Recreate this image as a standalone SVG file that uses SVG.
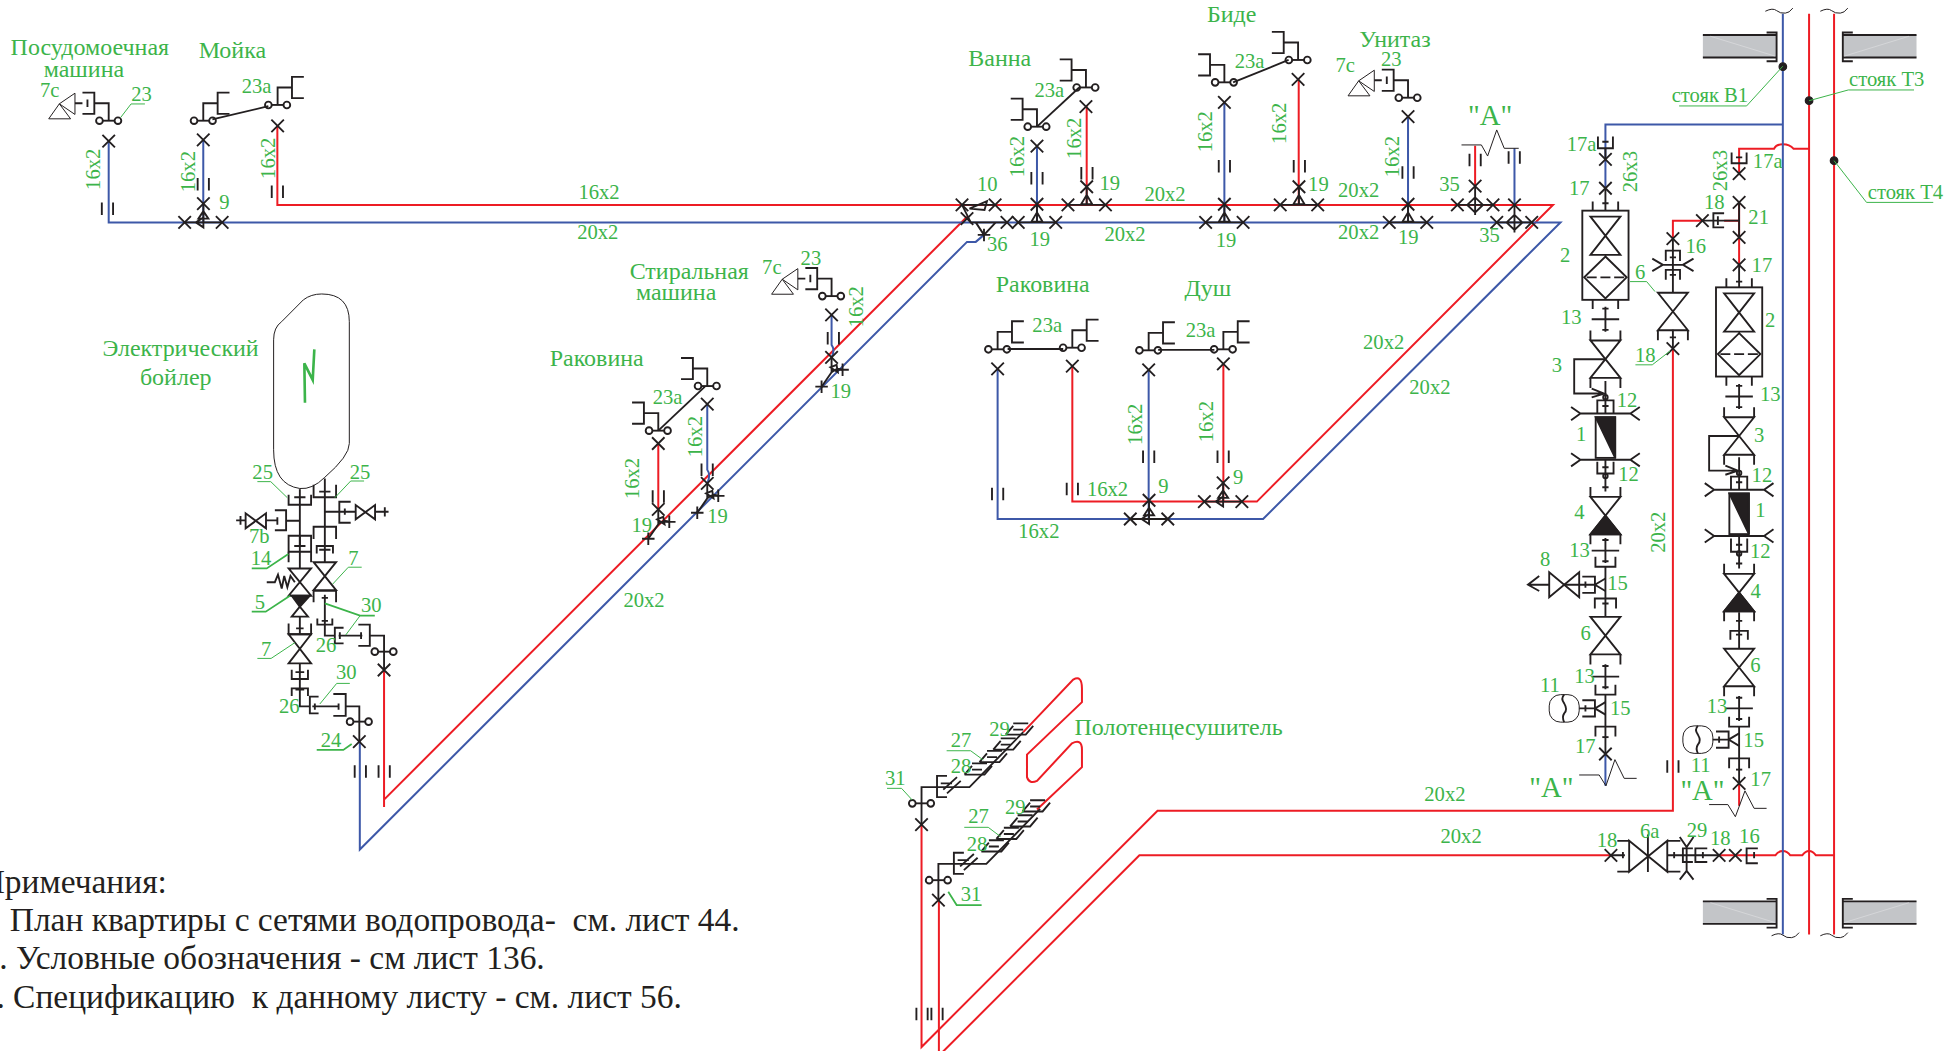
<svg xmlns="http://www.w3.org/2000/svg" width="1959" height="1051" viewBox="0 0 1959 1051">
<style>
text{font-family:"Liberation Serif","Times New Roman",serif;fill:#3cb44a;font-size:16.5px}
.h{font-size:19.2px}
.q{font-size:23px}
.n{font-size:26.8px;fill:#231f20}
.m{text-anchor:middle}
path,circle,rect,use{fill:none}
.k,.k path,.k circle{stroke:#231f20;stroke-width:1.5;fill:none}
.th{stroke:#231f20;stroke-width:.8;fill:none}
.r{stroke:#ed1c24;stroke-width:1.6;fill:none}
.b{stroke:#3d58a8;stroke-width:1.6;fill:none}
.g{stroke:#3cb44a;stroke-width:.8;fill:none}
.gt{stroke:#3cb44a;stroke-width:1.4;fill:none}
.f{fill:#231f20!important;stroke:#231f20}
.w{fill:#fff!important}
.slab{fill:#c3c5c8;stroke:none}
.d{stroke-dasharray:8 3}
</style>
<defs>
<path id="x" d="M-5-5L5 5M5-5L-5 5"/>
<path id="plus" d="M-5 0H5M0-5V5"/>
<path id="tk" d="M-4.500-5V5M4.500-5V5"/>
<g id="oo"><path d="M-5 0H5"/><circle cx="-7.400" r="2.700" class="w"/><circle cx="7.400" r="2.700" class="w"/></g>
<g id="fixL"><use href="#oo"/><path d="M0 0V-14H-11.500M-21-22.500H-11.500V-5.500H-21"/></g>
<g id="fixR"><use href="#oo"/><path d="M0 0V-14H11.500M21-22.500H11.500V-5.500H21"/></g>
<g id="dev"><use href="#fixL"/><path d="M-17-17V-11M-21-14H-27"/><path class="th" d="M-27-22V-5L-39.500-13.500ZM-39.500-13.500L-48-1.500H-30.500Z"/></g>
<g id="tee"><path d="M-15 0H15M0 0V-15M0-8L-4.500-.5H4.500Z"/><use href="#x" x="-15"/><use href="#x" x="15"/><use href="#x" y="-14.500"/></g>
<g id="tee9"><path d="M-15 0H15M0 0V-15M0-9L-4-3H4ZM-6 0L0-4V4Z"/><use href="#x" x="-15"/><use href="#x" x="15"/><use href="#x" y="-15"/></g>
<g id="teeD"><path d="M0 0V12L-8 23.500M0 12Q4 8 8.800 10M-1 8L4 6L5 12Z"/><use href="#x"/><use href="#plus" x="8.800" y="10"/><use href="#plus" x="-8" y="23.500"/></g>
<g id="v"><path d="M-12-15H12L-12 15H12ZM-12-15V-23M12-15V-23M-12 15V23M12 15V23"/></g>
<g id="v6"><path d="M-12-15H12L-12 15H12ZM-12 15V23M12 15V23"/></g>
<path id="t13" d="M-11 0H11M0-10V10M-2.500-8.500H2.500M-2.500 8.500H2.500"/>
<g id="box"><rect x="-18.500" y="-35.700" width="37" height="71.400"/><path d="M-10.200-35.700V-43M10.200-35.700V-43M-10.200 35.700V43M10.200 35.700V43M-12-30.900H12L-12-.3H12ZM0 1L17 17.700L0 34.500L-17 17.700Z"/><path class="d" d="M-15 17.700H15"/></g>
<g id="flt"><path d="M-27.500-5.300L-20 0L-27.500 5.300M-20 0H20M27.500-5.300L20 0L27.500 5.300M-27.500 31.700L-20 37L-27.500 42.300M-20 37H20M27.500 31.700L20 37L27.500 42.300"/><rect x="-7.800" y="3" width="15.600" height="32.500"/><path class="f" d="M-7.800 3H7.800V35.500Z"/></g>
<g id="tb"><path d="M0-5L-8.400 0L0 5M-18.500-6.500H-8.400V6.500H-18.500M-8.400 0H-21M-16-2.500V2.500"/></g>
<g id="ga"><use href="#tb"/><rect class="th" x="-45" y="-11" width="24" height="22" rx="9"/><path d="M-33-11q-3 3 0 7q3 5 0 8q-2 3 0 7"/></g>
<path id="fc" d="M-8-8V0H8V-8"/>
<path id="fn" d="M-8 8V0H8V8"/>
<path id="ch" d="M-8 7L-2 0M-8 7H8L14 0M-2 3H6M-2 -2L10-2" />
<g id="slabL"><rect class="slab" x="0" y="0" width="59" height="18"/><path class="k" d="M0 0H59M0 18H59" /><path d="M6 1L58 17" stroke="#e6e7e8" stroke-width=".4"/><path class="k" d="M51-2H59V21H51"/></g>
</defs>
<g transform="scale(1.24936)">

<g id="connectors">
<g class="r">
<path d="M222 100V164H1243L1006 401.500H858.300V293"/>
<path d="M979.200 291.300V401.500"/>
<path d="M869.800 85V164M1039.500 63.500V164M1180.700 116.600V149"/>
<path d="M307.400 536.300V646M307.400 640L774 173.500"/>
<path d="M526.900 355V407.700"/>
<path d="M1448 11V748M1468 11V748"/>
<path d="M1448 119H1435.500q-3-3.500-8.500-3.500t-7 3.500H1392V139M1392 162V190M1392 190V212"/>
<path d="M1392 176.600H1380M1362.600 176.600H1339V191"/>
<path d="M1339 279V649H926.500L737.600 838V660"/>
<path d="M1468 684.600H1453.500q-2.500-3.500-5.500-3.500t-5.500 3.500H1433q-2.500-3.500-6-3.500t-6 3.500H1376"/>
<path d="M1289.400 684.600H912L751.500 845M751.500 720V850"/>
<path d="M1392 627V645"/>
<path d="M819 586L859 544Q866 540 866 551V562L822 604V622Q824 628 830 625L858 595Q866 591 866 600V614L830 648"/>
</g>
<g class="b">
<path d="M87 113V178H1249L1011 415.400H798.500V295"/>
<path d="M162.700 112V178M830 117V178M980 82V178M1127 93.400V178M1212.200 118.700V164M919.400 296V415.400"/>
<path d="M288 593.600V680L774 193.600H781L787.600 188"/>
<path d="M566.100 323.400V376q3 4 0 11M665.600 252V276q3 4 0 10"/>
<path d="M1427 11V748"/>
<path d="M1427 99.600H1285V127.500M1285 127.500V150.700M1285 603.500V629"/>
</g>
</g>

<g id="breaks" class="th">
<path d="M1169.800 116H1185.700L1190.700 124.900L1198 104L1204 118.700H1215.600"/>
<path d="M1264 620.300H1280L1285.400 629L1292.600 608L1300 623H1310"/>
<path d="M1368 644H1383L1389 653.700L1396.700 633L1404 647H1414"/>
<path d="M1413 9q6-3 9-.5t7 2q3 0 6-4M1457 9q6-3 9-.5t7 2q3 0 6-4"/>
<path d="M1418 749q6-3 9-.5t7 2q3 0 6-4M1457 749q6-3 9-.5t7 2q3 0 6-4"/>
</g>

<g id="pipe-ticks" class="k">
<use href="#tk" x="86" y="167"/><use href="#tk" x="162.700" y="147.500"/><use href="#tk" x="222" y="153.400"/>
<use href="#tk" x="830" y="142.700"/><use href="#tk" x="870" y="138.700"/><use href="#tk" x="980" y="133"/><use href="#tk" x="1040" y="133"/><use href="#tk" x="1127" y="138"/><use href="#tk" x="1180.700" y="128"/><use href="#tk" x="1212" y="126"/>
<use href="#tk" x="288.400" y="617.600"/><use href="#tk" x="307.500" y="617.600"/><use href="#tk" x="667" y="270.800"/><use href="#tk" x="526.900" y="397.500"/><use href="#tk" x="566" y="376"/>
<use href="#tk" x="798.500" y="395.400"/><use href="#tk" x="858.300" y="391.400"/><use href="#tk" x="919.400" y="365.500"/><use href="#tk" x="979" y="365.500"/>
<use href="#tk" x="738" y="811.600"/><use href="#tk" x="750" y="811.600"/><use href="#tk" x="1339" y="613.600"/>
</g>

<g id="slabs">
<use href="#slabL" x="1363" y="28"/>
<use href="#slabL" x="1363" y="721.500"/>
<use href="#slabL" transform="translate(1534 28) scale(-1 1)"/>
<use href="#slabL" transform="translate(1534 721.500) scale(-1 1)"/>
</g>

<g id="dishwasher" class="k"><use href="#dev" x="87" y="96.600"/><use href="#x" x="87" y="113"/></g>
<g id="sink-kitchen" class="k"><use href="#fixR" x="162.700" y="96.600"/><use href="#x" x="162.700" y="112"/><use href="#fixR" x="222.200" y="84"/><use href="#x" x="222.200" y="100.800"/><path d="M170 95.600L214.800 85"/></g>
<g id="tee-kitchen" class="k"><use href="#tee9" x="162.800" y="178"/></g>
<g id="bath" class="k"><use href="#fixL" x="830" y="101.400"/><use href="#x" x="830" y="117"/><use href="#fixL" x="869.200" y="70"/><use href="#x" x="869.200" y="85.400"/><path d="M830 101.400L863.800 70"/><use href="#tee" x="830" y="178"/><use href="#x" x="806" y="178"/><use href="#tee" x="869.800" y="164"/></g>
<g id="bidet" class="k"><use href="#fixL" x="980" y="65.900"/><use href="#x" x="980" y="82"/><use href="#fixL" x="1039" y="48"/><use href="#x" x="1039" y="63.500"/><path d="M987 65.900L1031.400 48"/><use href="#tee" x="980" y="178"/><use href="#tee" x="1039.700" y="164"/></g>
<g id="toilet" class="k"><use href="#dev" x="1127" y="78.200"/><use href="#x" x="1127" y="93.400"/><use href="#tee" x="1127" y="178"/></g>
<g id="fit-10" class="k"><path d="M770 164H796.500M776 167L790 161L788 168ZM770 164L777 178H806M781 178L787.600 188L797 178"/><use href="#x" x="770" y="164"/><use href="#x" x="796.500" y="164"/><use href="#x" x="774" y="175"/><use href="#plus" x="787.600" y="188"/></g>
<g id="fit-35" class="k"><path d="M1166.500 164H1195M1180.700 149V172M1180.700 158L1187 164L1180.700 170L1174.400 164Z"/><use href="#x" x="1166.500" y="164"/><use href="#x" x="1195" y="164"/><use href="#x" x="1180.700" y="149"/>
<path d="M1198 178H1226M1212.200 164V186M1212.200 172L1218.500 178L1212.200 184L1205.900 178Z"/><use href="#x" x="1198" y="178"/><use href="#x" x="1226" y="178"/><use href="#x" x="1212.200" y="164"/></g>
<g id="washer" class="k"><use href="#dev" x="665.600" y="237"/><use href="#x" x="665.600" y="252"/><use href="#teeD" x="665.600" y="286"/></g>
<g id="sink-left" class="k"><use href="#fixL" x="526.900" y="344.700"/><use href="#x" x="526.900" y="355"/><use href="#fixL" x="566.100" y="309"/><use href="#x" x="566.100" y="323.400"/><path d="M526.900 344.700L564.200 309.500"/><use href="#teeD" x="526.900" y="407.700"/><use href="#teeD" x="566.100" y="386.900"/></g>
<g id="sink-right" class="k"><use href="#fixR" x="798.500" y="279.600"/><use href="#x" x="798.500" y="295.300"/><use href="#fixR" x="858.300" y="278.300"/><use href="#x" x="858.300" y="293"/><path d="M806.500 279.300H851"/></g>
<g id="shower" class="k"><use href="#fixR" x="919.400" y="280.400"/><use href="#x" x="919.400" y="296"/><use href="#fixR" x="979.200" y="279.600"/><use href="#x" x="979.200" y="291.300"/><path d="M927 280H972"/><use href="#tee9" x="919.700" y="415.400"/><use href="#tee9" x="979" y="401.500"/></g>

<g id="boiler"><path class="th" d="M219 272Q219 262 225.400 257.500L242.800 240Q249 235.300 257.500 235.300Q279.600 235.300 279.600 257.500V355Q279.600 365 260 382Q250 392 240 391Q219 388 219 360Z"/><path d="M244.100 322.300L243.600 290.800L250.300 304.100L251.600 279.600" stroke="#3cb44a" stroke-width="2.100" fill="none"/></g>
<g id="boiler-left" class="k">
<path d="M240 391.500V437.600"/>
<path d="M231 396V404H249V396M235.500 398H244.500M240 416.800H229M220 408.400H229V424.400H220M222 414V420M222 416.500H213"/>
<path class="th" d="M196.600 410.900V422.900L212.900 410.900V422.900Z"/>
<path d="M189 416.500H196.600M192.500 413V420"/>
<path d="M231 437.600V428.800H249V437.600M240 428.800V442M235.500 437H244.500M231 434V441.600H249V434"/>
<path d="M231 441.600V450M249 441.600V450M240 441.600V455"/>
<path d="M231 455H249L231 476.800H249ZM213.500 466H220L222.500 460L225.500 471L227.500 461L230 470L232.500 461L236 466"/>
<path class="f" d="M233.500 476.800H248L240 485.600Z"/>
<path class="th" d="M240 485.600L233.500 493.600H246.500Z"/>
<path d="M240 493.600V507.700M237 503H243M231 499V507.700H249V499"/>
<path d="M231 507.700H249L231 531H249ZM240 531V565.400H248M233.500 536V543.500H246.500V536M236.500 538H243.500M233.500 557V551H246.500V557M236.500 552H243.500"/>
<path d="M255 557.600H248V571H255M250 565.400H271M252 563V568M271 563V568M266.800 555.500H276.700V573H266.800M276.700 565.400H287.600V577.600"/>
<use href="#oo" x="287.600" y="577.600"/><path d="M287.600 577.600V593.600"/><use href="#x" x="287.600" y="593.600"/>
</g>
<g id="boiler-right" class="k">
<path d="M260 383V450M251 388V398H269V388M255.500 393.500H264.500M260 409.600H284.700M280.700 401.600H271.600V418.400H280.700M276 407V412M300.200 409.600H311M308 406V413.500"/>
<path class="th" d="M284.700 404.200V415.700L300.200 404.200V415.700Z"/>
<path d="M251 431.400V421.600H269V431.400M253.500 443V437H266.500V443M255.500 440H264.500"/>
<path d="M251 450H269L251 472.300H269ZM251 472.800H269M251 472.800V482M269 472.800V482M260 476V508.800H268M257.500 478.500H262.500M254 495V500H266V495M257.500 497H262.500"/>
<path d="M275 502.500H268V515H275M271 508.800H290M272 506V511.500M289 506V511.500M286.800 500H296V517H286.800M296 508.800H307.400V521.600"/>
<use href="#oo" x="307.400" y="521.600"/><path d="M307.400 521.600V536.300"/><use href="#x" x="307.400" y="536.300"/>
</g>

<g id="riser-dots"><circle class="f" cx="1427" cy="53.400" r="3"/><circle class="f" cx="1448" cy="80.600" r="3"/><circle class="f" cx="1468" cy="128.600" r="3"/></g>

<g id="column-1" class="k" transform="translate(1285 0)">
<path d="M-6 109.300V118.700H6V109.300M-2.500 113.500H2.500M0 118.700V127.500M0 150.700V168.600M-2.500 162.700H2.500"/>
<use href="#x" y="127.500"/><use href="#x" y="150.700"/>
<use href="#box" y="204.300"/><use href="#t13" y="255.500"/><use href="#v" y="287.500"/>
<path d="M0 287.500H-25V315H-2M-11 311L-1 315L-11 318"/>
<path d="M0 305V331M-6.500 331V320.500H6.500V331M-2.500 325H2.500"/><circle cy="318" r="1.800"/>
<use href="#flt" y="331"/>
<path d="M0 368V393.500M-6.500 369.500V379H6.500V369.500M-2.500 374H2.500M-2.500 390H2.500"/><circle cy="381" r="1.800"/>
<use href="#v" y="412.700"/><path class="f" d="M0 412.700L12 427.700H-12Z"/>
<use href="#t13" y="440.700"/><use href="#fc" y="453.600"/>
<path d="M0 453.600V493.600"/>
<use href="#tb" y="468"/>
<path d="M-21 468H-34M-8.500 487V479H8.500V487M-2.500 483H2.500"/>
<path class="th" d="M-45 458V478L-21 458V478Z"/>
<path d="M-45 468H-62M-53 461L-62 468L-53 473"/>
<use href="#v6" y="508.800"/><use href="#t13" y="541.600"/><use href="#fc" y="556"/>
<path d="M0 556V603.500"/>
<use href="#ga" y="567"/>
<use href="#fn" y="581.600"/><path d="M-2.500 590H2.500"/><use href="#x" y="603.500"/>
</g>

<g id="column-2" class="k" transform="translate(1392 0)">
<path d="M-6 122V130.700H6V122M-2.500 126H2.500"/><use href="#x" y="139"/><use href="#x" y="162"/><use href="#x" y="190"/><use href="#x" y="212"/>
<path d="M0 162V190M0 176.600H-30M-12 170.700H-20.600V182H-12M-17 173V180M0 212V230M-2.500 225.400H2.500"/>
<use href="#x" x="-29.400" y="176.600"/>
<use href="#box" y="265.700"/><use href="#t13" y="317.400"/><use href="#v" y="349"/>
<path d="M0 349H-24V376.700H-2M-11 372.700L-1 376.700L-11 380"/>
<path d="M0 366V392M-6.500 392V381.500H6.500V392M-2.500 386H2.500"/><circle cy="378.500" r="1.800"/>
<use href="#flt" y="392"/>
<path d="M0 429.500V455M-6.500 431V441.600H6.500V431M-2.500 436H2.500M-2.500 451H2.500"/><circle cy="443" r="1.800"/>
<use href="#v" y="474.300"/><path class="f" d="M0 474.300L12 489.300H-12Z"/>
<path d="M0 490V519M-7 512V505H7V512M-2.500 508H2.500M-2.500 497H2.500"/>
<use href="#v6" y="534.300"/><use href="#t13" y="567"/><use href="#fc" y="581.600"/>
<path d="M0 581.600V627"/><use href="#ga" y="592"/>
<use href="#fn" y="607"/><path d="M-2.500 616H2.500"/><use href="#x" y="627"/>
</g>

<g id="column-3" class="k" transform="translate(1339 0)">
<use href="#x" y="191"/>
<path d="M0 191V234M-5.700 209V200.600H5.700V209M-2.500 206H2.500M-16.500 207L-8 212L-16.500 217M-8 212H8M16.500 207L8 212L16.500 217M-5.700 224V216H5.700V224M-2.500 220H2.500"/>
<use href="#v6" y="249.300"/><path d="M0 264V279M-2.500 270H2.500"/><use href="#x" y="279"/>
</g>

<g id="bottom-fittings" class="k">
<use href="#x" x="1289.400" y="684.600"/><path d="M1289.400 684.600H1300.600M1299 682V687"/>
<path d="M1304 673V697.700L1334.500 673V697.700ZM1294.500 673H1304M1294.500 697.700H1304M1334.500 673H1345M1334.500 697.700H1345M1319 668V698M1334.500 684.600H1376M1340 682V687"/>
<path d="M1350 678V697M1344.500 670L1350 678L1355.500 670M1344.500 704L1350 697L1355.500 704M1355 679H1347V690H1355M1366.500 679H1357V690H1366.500M1363 682V687"/>
<use href="#x" x="1376" y="684.600"/><use href="#x" x="1389" y="684.600"/>
<path d="M1407 679H1398V691H1407M1404 682V687"/>
</g>

<g id="towel-upper" class="k">
<path d="M819 586L776 630H737.600V660M758 621H750V638H758"/>
<use href="#ch" x="813" y="581"/><use href="#ch" x="803" y="593"/><use href="#ch" x="792" y="603"/><use href="#ch" x="780" y="613"/><path d="M753 627H762M755 632L766 622M758 635L769 625"/>
<use href="#oo" x="737.600" y="643"/><use href="#x" x="737.600" y="660"/>
</g>
<g id="towel-lower" class="k" transform="translate(13.500 61.500)">
<path d="M819 586L776 630H737.600V659M758 621H750V638H758"/>
<use href="#ch" x="813" y="581"/><use href="#ch" x="803" y="593"/><use href="#ch" x="792" y="603"/><use href="#ch" x="780" y="613"/><path d="M753 627H762M755 632L766 622M758 635L769 625"/>
<use href="#oo" x="737.600" y="643"/><use href="#x" x="737.600" y="659"/>
</g>

<g id="leaders">
<path class="g" d="M96.600 94L104.900 83.200H116M206 385.500H216.700L230 398.400M291.400 385H280.700L268 398.400M289.500 454H278.800L266.300 467.500M206 527H217L236 514.400M280 547H269.500L256 563.500M288.200 492.800L276.700 508.300"/>
<path class="gt" d="M201.500 455H213.500L230.800 443.400M201.500 489.600H212.700L232.100 476.800M260 483L288.200 492.800H300M253.500 600.300H274.800L281.500 595.500M759 713.700L765.700 724.400H785.700"/>
<path class="g" d="M1304.700 225.400H1318L1324.700 233.400M1309 292H1322.500L1336.700 281M757.700 600.900H776.900L787 608.300M710 631H721.600L730.200 640.400M771.800 662.200H791L800.900 669.700"/>
<path class="g" d="M1427 53L1398 84.800H1344M1448 80.600L1479.400 72H1532M1468 128.600L1494 162H1547.400"/>
</g>

<g id="titles">
<text class="h" x="8.500" y="44">Посудомоечная</text><text class="h" x="35" y="61.400">машина</text>
<text class="h" x="159" y="46.700">Мойка</text><text class="h" x="775" y="53">Ванна</text><text class="h" x="966" y="18">Биде</text><text class="h" x="1088" y="37.500">Унитаз</text>
<text class="h" x="504" y="223">Стиральная</text><text class="h" x="509" y="240">машина</text><text class="h" x="440" y="293">Раковина</text>
<text class="h" x="82" y="285">Электрический</text><text class="h" x="112" y="308">бойлер</text>
<text class="h" x="797" y="234">Раковина</text><text class="h" x="948" y="237">Душ</text><text class="h" x="860" y="588">Полотенцесушитель</text>
<text class="q" x="1175" y="100">"А"</text><text class="q" x="1224" y="638">"А"</text><text class="q" x="1345" y="640">"А"</text>
<text x="1338" y="82">стояк В1</text><text x="1480" y="69">стояк Т3</text><text x="1495" y="159">стояк Т4</text>
</g>

<g id="size-labels">
<text class="m" transform="translate(80 135.500) rotate(-90)">16x2</text>
<text class="m" transform="translate(156 137.400) rotate(-90)">16x2</text>
<text class="m" transform="translate(220 126.700) rotate(-90)">16x2</text>
<text class="m" transform="translate(820 125.400) rotate(-90)">16x2</text>
<text class="m" transform="translate(865.500 110.700) rotate(-90)">16x2</text>
<text class="m" transform="translate(970 105.400) rotate(-90)">16x2</text>
<text class="m" transform="translate(1029.700 98.700) rotate(-90)">16x2</text>
<text class="m" transform="translate(1119.400 125.400) rotate(-90)">16x2</text>
<text class="m" transform="translate(1310 137.400) rotate(-90)">26x3</text>
<text class="m" transform="translate(1382 136.600) rotate(-90)">26x3</text>
<text class="m" transform="translate(1332.700 426) rotate(-90)">20x2</text>
<text class="m" transform="translate(690.400 245.500) rotate(-90)">16x2</text>
<text class="m" transform="translate(511.700 383) rotate(-90)">16x2</text>
<text class="m" transform="translate(561.600 349.500) rotate(-90)">16x2</text>
<text class="m" transform="translate(913.800 339.600) rotate(-90)">16x2</text>
<text class="m" transform="translate(971.200 337.500) rotate(-90)">16x2</text>
<text x="463" y="159.500">16x2</text><text x="462" y="191">20x2</text><text x="916" y="161">20x2</text><text x="884" y="193">20x2</text><text x="1071" y="158">20x2</text><text x="1071" y="191">20x2</text>
<text x="1091" y="279">20x2</text><text x="1128" y="315">20x2</text><text x="499" y="486">20x2</text><text x="1140" y="641">20x2</text><text x="1153" y="675">20x2</text>
<text x="870" y="397">16x2</text><text x="815" y="431">16x2</text>
</g>

<g id="position-labels">
<text x="32" y="77.500">7с</text><text x="105" y="80.500">23</text><text x="193.400" y="74.700">23а</text><text x="175.500" y="167.500">9</text>
<text x="782" y="153">10</text><text x="824" y="197">19</text><text x="880" y="152">19</text><text x="973" y="198">19</text><text x="1047" y="153">19</text><text x="1119" y="195">19</text><text x="790" y="201">36</text><text x="1152" y="153">35</text><text x="1184" y="194">35</text>
<text x="828" y="77.400">23а</text><text x="988.300" y="54.200">23а</text><text x="1069" y="58">7с</text><text x="1105.400" y="52.800">23</text>
<text x="522.400" y="323.600">23а</text><text x="505.500" y="425.600">19</text><text x="566" y="419">19</text><text x="664.800" y="318.800">19</text><text x="610" y="219.300">7с</text><text x="640.800" y="212">23</text>
<text x="826.300" y="265.500">23а</text><text x="949" y="270">23а</text><text x="927" y="395">9</text><text x="987" y="387">9</text>
<text x="202" y="383">25</text><text x="280" y="383">25</text><text x="199.300" y="434.400">7b</text><text x="200.700" y="452.200">14</text><text x="278.800" y="452">7</text><text x="204" y="487.700">5</text><text x="208.900" y="525">7</text><text x="289" y="490">30</text><text x="252.700" y="521.600">26</text><text x="269" y="543.800">30</text><text x="223.300" y="571">26</text><text x="256.700" y="597.700">24</text>
<text x="1254" y="120.500">17а</text><text x="1255.800" y="156">17</text><text x="1248.600" y="210">2</text><text x="1308.600" y="223.500">6</text><text x="1249.400" y="259.300">13</text><text x="1242" y="298">3</text><text x="1294" y="325.400">12</text><text x="1261.400" y="352.700">1</text><text x="1295.300" y="384.700">12</text><text x="1260" y="415.400">4</text>
<text x="1403" y="134.700">17а</text><text x="1363.900" y="167.500">18</text><text x="1399.400" y="179.200">21</text><text x="1349" y="202.700">16</text><text x="1402" y="217.400">17</text><text x="1412.700" y="261.400">2</text><text x="1308.700" y="290">18</text><text x="1408.700" y="321">13</text><text x="1404" y="354">3</text><text x="1402" y="385.500">12</text><text x="1405" y="414">1</text>
<text x="1256" y="445.600">13</text><text x="1232.600" y="453">8</text><text x="1286.500" y="472.200">15</text><text x="1265" y="512.300">6</text><text x="1260" y="546.400">13</text><text x="1232.600" y="554">11</text><text x="1288.600" y="572.300">15</text><text x="1260.600" y="603">17</text>
<text x="1400.700" y="447">12</text><text x="1401.200" y="478.400">4</text><text x="1401" y="537.600">6</text><text x="1366" y="571">13</text><text x="1395.400" y="598">15</text><text x="1353.200" y="618">11</text><text x="1401" y="629">17</text>
<text x="1278" y="677.700">18</text><text x="1312.700" y="671">6а</text><text x="1350" y="670">29</text><text x="1368.700" y="676">18</text><text x="1392" y="675">16</text>
<text x="791.800" y="588.900">29</text><text x="761" y="598">27</text><text x="761" y="619">28</text><text x="708.300" y="628.300">31</text><text x="804.400" y="651.600">29</text><text x="775" y="659">27</text><text x="773.700" y="681">28</text><text x="769" y="721">31</text>
</g>

<g id="notes">
<text class="n" x="-15.500" y="715">Примечания:</text>
<text class="n" x="-19" y="745">1. План квартиры с сетями водопровода-&#160; см. лист 44.</text>
<text class="n" x="-14" y="775.600">2. Условные обозначения - см лист 136.</text>
<text class="n" x="-16.300" y="806.500">3. Спецификацию&#160; к данному листу - см. лист 56.</text>
</g>
</g>
</svg>
